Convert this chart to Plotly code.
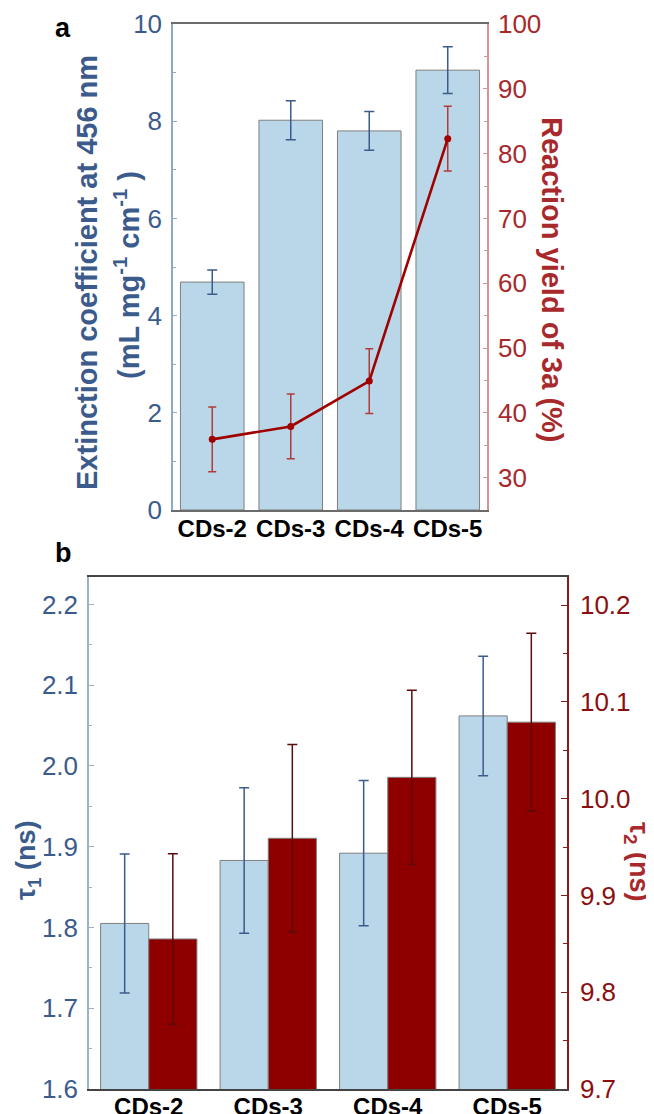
import plotly.graph_objects as go

# ---------------- data ----------------
categories = ["CDs-2", "CDs-3", "CDs-4", "CDs-5"]

# panel a
extinction = [4.69, 8.02, 7.80, 9.05]
extinction_err = [0.25, 0.40, 0.40, 0.48]
reaction_yield = [35.9, 37.9, 44.9, 82.3]
reaction_yield_err = [5.0, 5.0, 5.0, 5.0]

# panel b
tau1 = [1.805, 1.883, 1.892, 2.062]
tau1_err = [0.086, 0.090, 0.090, 0.074]
tau2 = [9.855, 9.959, 10.022, 10.079]
tau2_err = [0.088, 0.097, 0.090, 0.092]

# ---------------- styles ----------------
FONT = "Liberation Sans, Arial, sans-serif"
BLUE_TXT = "#3b5b8c"
RED_TXT_A = "#a8292c"
RED_TXT_B = "#8b0f0f"
BAR_BLUE = "#b9d7e8"
BAR_RED = "#8e0000"
OUTLINE = "#7f7f7f"

# page body has an 8px margin; the figure fills the rest of the window
OFF = 8
W, H = 654 - OFF, 1114 - OFF

def px_x(x):
    return (x - OFF) / W

def px_y(y):
    return (H - (y - OFF)) / H

fig = go.Figure()

# panel a bars
fig.add_trace(go.Bar(
    x=categories, y=extinction, width=0.81,
    marker=dict(color=BAR_BLUE, line=dict(color=OUTLINE, width=1)),
    error_y=dict(type="data", array=extinction_err, color=BLUE_TXT, thickness=1.5, width=5),
    xaxis="x", yaxis="y", showlegend=False,
))
# panel a line
fig.add_trace(go.Scatter(
    x=categories, y=reaction_yield, mode="lines+markers",
    line=dict(color="#a00000", width=2.6),
    marker=dict(color="#a00000", size=7),
    error_y=dict(type="data", array=reaction_yield_err, color="#b23a3a", thickness=1.5, width=4),
    xaxis="x", yaxis="y2", showlegend=False,
))

# panel b bars
fig.add_trace(go.Bar(
    x=categories, y=tau1, width=0.403, offset=-0.403,
    marker=dict(color=BAR_BLUE, line=dict(color=OUTLINE, width=1)),
    error_y=dict(type="data", array=tau1_err, color=BLUE_TXT, thickness=1.5, width=5),
    xaxis="x2", yaxis="y3", showlegend=False,
))
fig.add_trace(go.Bar(
    x=categories, y=tau2, width=0.403, offset=0.0,
    marker=dict(color=BAR_RED, line=dict(color=OUTLINE, width=1)),
    error_y=dict(type="data", array=tau2_err, color="#5c0a0a", thickness=1.5, width=5),
    xaxis="x2", yaxis="y4", showlegend=False,
))

tickfont_blue = dict(family=FONT, size=26, color=BLUE_TXT)
catfont = dict(family=FONT, size=24, color="black", weight="bold")

dom_a_x = [px_x(173), px_x(487)]
dom_a_y = [px_y(510), px_y(24)]
dom_b_x = [px_x(89), px_x(567)]
dom_b_y = [px_y(1089), px_y(577)]

fig.update_layout(
    width=W, height=H,
    margin=dict(l=0, r=0, t=0, b=0, autoexpand=False),
    paper_bgcolor="white", plot_bgcolor="white",
    barmode="overlay",
    font=dict(family=FONT),
    xaxis=dict(domain=dom_a_x, anchor="y", range=[-0.5, 3.5], type="category", automargin=False,
               showline=True, linecolor="#6b6b6b", linewidth=1.5, mirror=True,
               ticks="", tickfont=catfont, ticklabelstandoff=-4, showgrid=False),
    yaxis=dict(domain=dom_a_y, anchor="x", range=[0, 10], tickvals=[0, 2, 4, 6, 8, 10], automargin=False,
               showline=True, linecolor="#8fa8c4", linewidth=1.5,
               ticks="inside", ticklen=4, tickcolor="#8fa8c4",
               minor=dict(ticks="inside", ticklen=3, dtick=1, tickcolor="#8fa8c4"),
               tickfont=tickfont_blue, ticklabelstandoff=4, showgrid=False, zeroline=False),
    yaxis2=dict(overlaying="y", anchor="x", side="right", range=[25, 100], automargin=False,
                tickvals=[30, 40, 50, 60, 70, 80, 90, 100],
                showline=True, linecolor="#d89393", linewidth=1.5,
                ticks="inside", ticklen=4, tickcolor="#d89393",
                minor=dict(ticks="inside", ticklen=3, dtick=5, tickcolor="#d89393"),
                tickfont=dict(family=FONT, size=26, color=RED_TXT_A), ticklabelstandoff=4,
                showgrid=False, zeroline=False),
    xaxis2=dict(domain=dom_b_x, anchor="y3", range=[-0.5, 3.5], type="category", automargin=False,
                showline=True, linecolor="#444444", linewidth=1.5, mirror=True,
                ticks="", tickfont=catfont, ticklabelstandoff=-5, showgrid=False),
    yaxis3=dict(domain=dom_b_y, anchor="x2", range=[1.6, 2.234], automargin=False,
                tickvals=[1.6, 1.7, 1.8, 1.9, 2.0, 2.1, 2.2], ticktext=["1.6", "1.7", "1.8", "1.9", "2.0", "2.1", "2.2"],
                showline=True, linecolor="#9ab3c8", linewidth=1.5,
                ticks="inside", ticklen=5, tickcolor="#9ab3c8",
                minor=dict(ticks="inside", ticklen=3, dtick=0.05, tick0=1.6, tickcolor="#9ab3c8"),
                tickfont=tickfont_blue, ticklabelstandoff=4, showgrid=False, zeroline=False),
    yaxis4=dict(overlaying="y3", anchor="x2", side="right", range=[9.7, 10.229], automargin=False,
                tickvals=[9.7, 9.8, 9.9, 10.0, 10.1, 10.2], ticktext=["9.7", "9.8", "9.9", "10.0", "10.1", "10.2"],
                showline=True, linecolor="#8b1a1a", linewidth=1.5,
                ticks="inside", ticklen=6, tickcolor="#8b1a1a",
                minor=dict(ticks="inside", ticklen=4, dtick=0.05, tick0=9.7, tickcolor="#8b1a1a"),
                tickfont=dict(family=FONT, size=26, color=RED_TXT_B), ticklabelstandoff=6,
                showgrid=False, zeroline=False),
)

title_font_blue = dict(family=FONT, size=29, color=BLUE_TXT, weight="bold")
annos = [
    dict(text="Extinction coefficient at 456 nm", x=px_x(87), y=px_y(273), textangle=-90,
         font=title_font_blue),
    dict(text="(mL mg<sup>-1</sup> cm<sup>-1</sup> )", x=px_x(127), y=px_y(275), textangle=-90,
         font=title_font_blue),
    dict(text="Reaction yield of 3a (%)", x=px_x(552), y=px_y(280), textangle=90,
         font=dict(family=FONT, size=29, color=RED_TXT_A, weight="bold")),
    dict(text="τ<sub>1</sub> (ns)", x=px_x(28), y=px_y(860), textangle=-90,
         font=dict(family=FONT, size=27, color=BLUE_TXT, weight="bold")),
    dict(text="τ<sub>2</sub> (ns)", x=px_x(637), y=px_y(862), textangle=90,
         font=dict(family=FONT, size=27, color=RED_TXT_A, weight="bold")),
    dict(text="a", x=px_x(63), y=px_y(28), font=dict(family=FONT, size=27, color="black", weight="bold")),
    dict(text="b", x=px_x(63), y=px_y(553), font=dict(family=FONT, size=27, color="black", weight="bold")),
]
for a in annos:
    a.update(xref="paper", yref="paper", showarrow=False, xanchor="center", yanchor="middle")
fig.update_layout(annotations=annos)

fig.write_html("out.html")
